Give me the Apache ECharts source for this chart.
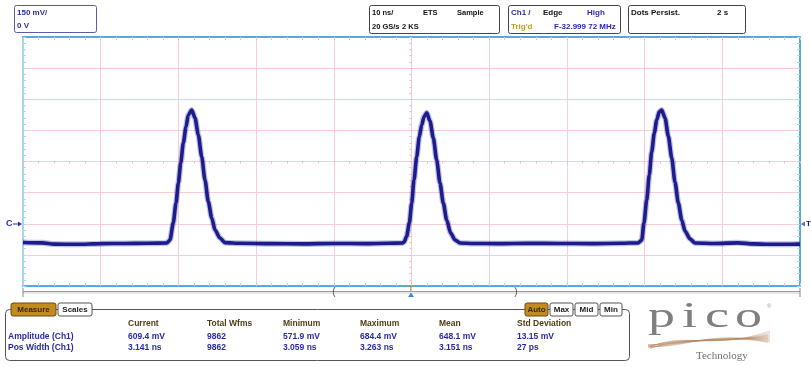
<!DOCTYPE html>
<html>
<head>
<meta charset="utf-8">
<script src="https://cdn.jsdelivr.net/npm/echarts@6/dist/echarts.min.js"></script>
<style>
  html, body { margin: 0; padding: 0; background: #fff; }
  #main { width: 811px; height: 367px; }
</style>
</head>
<body>
<div id="main"></div>
<script>
// Ch1 trace, time in ns (0 = trigger point), level in mV
const baseA_t = [-50, -47.5, -46, -43, -40, -37, -34, -31.5];
const baseA_v = [-90, -92, -98, -99, -96, -95, -94, -93];
const pulse1_t = [-31.08, -30.66, -30.31, -30.01, -29.70, -29.37, -29.02, -28.73, -28.29, -27.86, -27.44, -27.00, -26.58, -26.15, -25.71, -25.29, -24.65, -24.00];
const pulse1_v = [-78, 4, 100, 196, 293, 389, 466, 524, 548, 510, 428, 323, 211, 106, 28, -30, -69, -91];
const baseB_t = [-22, -18, -14, -10, -6, -3, -1.2];
const baseB_v = [-94, -96, -97, -95, -96, -94, -93];
const pulse2_t = [-0.95, -0.62, -0.28, 0.03, 0.32, 0.67, 1.00, 1.31, 1.61, 1.96, 2.38, 2.81, 3.24, 3.67, 4.09, 4.53, 5.04, 5.60, 6.24];
const pulse2_v = [-88, -60, 4, 100, 211, 323, 419, 476, 516, 535, 495, 413, 307, 196, 100, 18, -45, -78, -93];
const baseC_t = [8, 11, 15, 19, 23, 27, 29.2];
const baseC_v = [-95, -96, -94, -95, -96, -94, -92];
const pulse3_t = [29.63, 29.92, 30.27, 30.60, 30.91, 31.25, 31.56, 31.89, 32.20, 32.63, 33.05, 33.49, 33.91, 34.34, 34.78, 35.20, 35.85, 36.49];
const pulse3_v = [-78, 4, 114, 235, 346, 437, 500, 539, 548, 510, 423, 317, 201, 100, 18, -35, -73, -93];
const baseD_t = [39, 42, 44, 46, 48, 50];
const baseD_v = [-95, -92, -97, -99, -99, -98];

// measurement table
const measColumns = ['Current', 'Total Wfms', 'Minimum', 'Maximum', 'Mean', 'Std Deviation'];
const measNames = ['Amplitude (Ch1)', 'Pos Width (Ch1)'];
const amplitudeRow = ['609.4 mV', '9862', '571.9 mV', '684.4 mV', '648.1 mV', '13.15 mV'];
const widthRow = ['3.141 ns', '9862', '3.059 ns', '3.263 ns', '3.151 ns', '27 ps'];

const segT = [baseA_t, pulse1_t, baseB_t, pulse2_t, baseC_t, pulse3_t, baseD_t];
const segV = [baseA_v, pulse1_v, baseB_v, pulse2_v, baseC_v, pulse3_v, baseD_v];
const trace = [];
segT.forEach((ts, i) => ts.forEach((t, j) => trace.push([t, segV[i][j]])));

const pink = '#f9ccd8';
const edgeBlue = '#56abdc';
const tickBlue = '#b7d4e6';
const SANS = '"Liberation Sans", Arial, sans-serif';
const SERIF = '"Liberation Serif", "DejaVu Serif", serif';
const bold8 = 'bold 8px ' + SANS;
const boldS = 'bold 7.5px ' + SANS;
const boldT = 'bold 8.5px ' + SANS;

function txt(x, y, text, fill, font, align) {
  return { type: 'text', x: x, y: y, z: 20, silent: true,
    style: { text: text, fill: fill || '#111', font: font || bold8, align: align || 'left', verticalAlign: 'middle' } };
}
function box(x, y, w, h, stroke, fill) {
  return { type: 'rect', z: 18, silent: true, shape: { x: x, y: y, width: w, height: h, r: 2 },
    style: { fill: fill || '#fff', stroke: stroke || '#444', lineWidth: 1 } };
}
function tab(x, w, label, on) {
  return [
    box(x, 303, w, 13, on ? '#6a4a12' : '#555', on ? '#c28b20' : '#fff'),
    txt(x + w / 2, 309.5, label, on ? '#3a2808' : '#222', bold8, 'center')
  ];
}

const graphics = [];
// top status boxes
graphics.push(box(14.5, 5.5, 82, 27, '#5c5ca0'));
graphics.push(txt(17, 13, '150 mV/', '#2e2ea2'), txt(17, 25.5, '0 V', '#2e2ea2'));
graphics.push(box(369.5, 5.5, 130, 28));
graphics.push(txt(372, 13, '10 ns/', '#111', boldS), txt(423, 13, 'ETS', '#111', boldS), txt(457, 13, 'Sample', '#111', boldS));
graphics.push(txt(372, 26.5, '20 GS/s', '#111', boldS), txt(402, 26.5, '2 KS', '#111', boldS));
graphics.push(box(508.5, 5.5, 112, 28));
graphics.push(txt(511, 13, 'Ch1 /', '#2a2ab0'), txt(543, 13, 'Edge'), txt(587, 13, 'High', '#2a2ab0'));
graphics.push(txt(511, 26.5, "Trig'd", '#b8a412'), txt(554, 26.5, 'F-32.999 72 MHz', '#2a2ab0'));
graphics.push(box(628.5, 5.5, 117, 28));
graphics.push(txt(631, 13, 'Dots Persist.'), txt(717, 13, '2 s'));

// channel offset and trigger level markers
graphics.push(txt(6, 224, 'C', '#2e2ea2', 'bold 9px ' + SANS));
graphics.push({ type: 'line', z: 20, silent: true, shape: { x1: 13, y1: 224, x2: 20, y2: 224 }, style: { stroke: '#2e2ea2', lineWidth: 1 } });
graphics.push({ type: 'polygon', z: 20, silent: true, shape: { points: [[18, 221.5], [22, 224], [18, 226.5]] }, style: { fill: '#2e2ea2' } });
graphics.push({ type: 'polygon', z: 20, silent: true, shape: { points: [[801, 224], [805, 221.5], [805, 226.5]] }, style: { fill: '#4d6fd0' } });
graphics.push(txt(806, 224, 'T', '#1a1a66', 'bold 8px ' + SANS));

// horizontal scroll bar under the plot
graphics.push({ type: 'line', z: 15, silent: true, shape: { x1: 23, y1: 291.5, x2: 800, y2: 291.5 }, style: { stroke: '#9a9a9a', lineWidth: 1 } });
graphics.push({ type: 'line', z: 15, silent: true, shape: { x1: 23, y1: 293, x2: 800, y2: 293 }, style: { stroke: '#d0d0d0', lineWidth: 1.2 } });
graphics.push({ type: 'line', z: 15, silent: true, shape: { x1: 23, y1: 288, x2: 23, y2: 297 }, style: { stroke: '#888', lineWidth: 1 } });
graphics.push({ type: 'line', z: 15, silent: true, shape: { x1: 800, y1: 288, x2: 800, y2: 297 }, style: { stroke: '#888', lineWidth: 1 } });
graphics.push(txt(334, 292, '(', '#555', '10px ' + SANS, 'center'), txt(516, 292, ')', '#555', '10px ' + SANS, 'center'));
graphics.push(txt(411, 289.5, 'T', '#c07414', 'bold 7px ' + SANS, 'center'));
graphics.push({ type: 'polygon', z: 20, silent: true, shape: { points: [[408, 297], [414, 297], [411, 292.5]] }, style: { fill: '#3a88d0' } });

// measurement panel
graphics.push({ type: 'rect', z: 16, silent: true, shape: { x: 5.5, y: 309.5, width: 624, height: 51, r: 4 },
  style: { fill: 'none', stroke: '#555', lineWidth: 1 } });
graphics.push(...tab(11, 45, 'Measure', true), ...tab(58, 34, 'Scales', false));
graphics.push(...tab(525, 23, 'Auto', true), ...tab(550, 23, 'Max', false), ...tab(575, 23, 'Mid', false), ...tab(600, 22, 'Min', false));
const colX = [128, 207, 283, 360, 439, 517];
measColumns.forEach((c, i) => graphics.push(txt(colX[i], 324, c, '#4e3c14', boldT)));
[amplitudeRow, widthRow].forEach((row, r) => {
  const y = 336.5 + r * 11.5;
  graphics.push(txt(8, y, measNames[r], '#2a2aa8', boldT));
  row.forEach((v, i) => graphics.push(txt(colX[i], y, v, '#2a2aa8', boldT)));
});

// pico logo
for (let i = 0; i < 10; i++) {
  graphics.push({ type: 'bezierCurve', z: 19, silent: true,
    shape: { x1: 648, y1: 348 - i * 0.4, cpx1: 686, cpy1: 330 + i * 1.8, cpx2: 706, cpy2: 352 - i * 2, x2: 770, y2: 331 + i * 1.2 },
    style: { stroke: 'rgba(190,140,100,0.5)', lineWidth: 0.6, fill: null } });
  graphics.push({ type: 'bezierCurve', z: 19, silent: true,
    shape: { x1: 650, y1: 346 + i * 0.3, cpx1: 684, cpy1: 350 - i * 1.7, cpx2: 712, cpy2: 328 + i * 1.9, x2: 768, y2: 343 - i * 0.9 },
    style: { stroke: 'rgba(170,130,100,0.4)', lineWidth: 0.5, fill: null } });
}
[['p', 648], ['i', 682], ['c', 705], ['o', 735]].forEach(([ch, x]) => {
  graphics.push({ type: 'text', x: x, y: 318, z: 20, silent: true, scaleX: 1.5,
    style: { text: ch, fill: '#7f7f7f', font: '36px ' + SERIF, verticalAlign: 'middle' } });
});
graphics.push(txt(767, 306, '\u00AE', '#999', '6px ' + SANS));
graphics.push(txt(696, 356, 'Technology', '#707070', '11px ' + SERIF));

const edgeAxis = (pos, color, split) => ({
  type: 'value', position: pos,
  axisLine: { show: true, onZero: false, lineStyle: { color: color, width: 2 } },
  axisTick: { show: true, inside: true, length: 3, lineStyle: { color: tickBlue } },
  minorTick: { show: true, splitNumber: 5, length: 3, lineStyle: { color: tickBlue } },
  axisLabel: { show: false },
  splitLine: { show: split, lineStyle: { color: pink, width: 1 } }
});
const centerAxis = (zeroIdx) => ({
  type: 'value',
  axisLine: { show: true, onZero: true, onZeroAxisIndex: zeroIdx, lineStyle: { color: pink, width: 1 } },
  axisTick: { show: true, inside: true, length: 2, lineStyle: { color: '#f2b3c4' } },
  minorTick: { show: true, splitNumber: 5, length: 2, lineStyle: { color: '#f2b3c4' } },
  axisLabel: { show: false },
  splitLine: { show: false }
});

const chart = echarts.init(document.getElementById('main'));
chart.setOption({
  animation: false,
  backgroundColor: '#fff',
  grid: { left: 23, right: 11, top: 37, bottom: 81, containLabel: false, outerBoundsMode: 'none' },
  xAxis: [
    Object.assign(edgeAxis('bottom', edgeBlue, true), { min: -50, max: 50, interval: 10 }),
    Object.assign(edgeAxis('top', edgeBlue, false), { min: -50, max: 50, interval: 10 }),
    Object.assign(centerAxis(2), { min: -50, max: 50, interval: 10 })
  ],
  yAxis: [
    Object.assign(edgeAxis('left', '#a8d4ec', true), { min: -300, max: 900, interval: 150 }),
    Object.assign(edgeAxis('right', edgeBlue, false), { min: -300, max: 900, interval: 150 }),
    Object.assign(centerAxis(0), { min: -4, max: 4, interval: 1 })
  ],
  series: [
    {
      type: 'line', xAxisIndex: 0, yAxisIndex: 0, data: trace, symbol: 'none',
      smooth: 0.25, smoothMonotone: 'x', z: 4,
      lineStyle: { color: 'rgba(50,50,170,0.3)', width: 6 }
    },
    {
      type: 'line', xAxisIndex: 0, yAxisIndex: 0, data: trace, symbol: 'none',
      smooth: 0.25, smoothMonotone: 'x', z: 5,
      lineStyle: { color: '#1c1c8a', width: 3.6 }
    }
  ],
  graphic: graphics
});
window.addEventListener('resize', () => chart.resize());
</script>
</body>
</html>
